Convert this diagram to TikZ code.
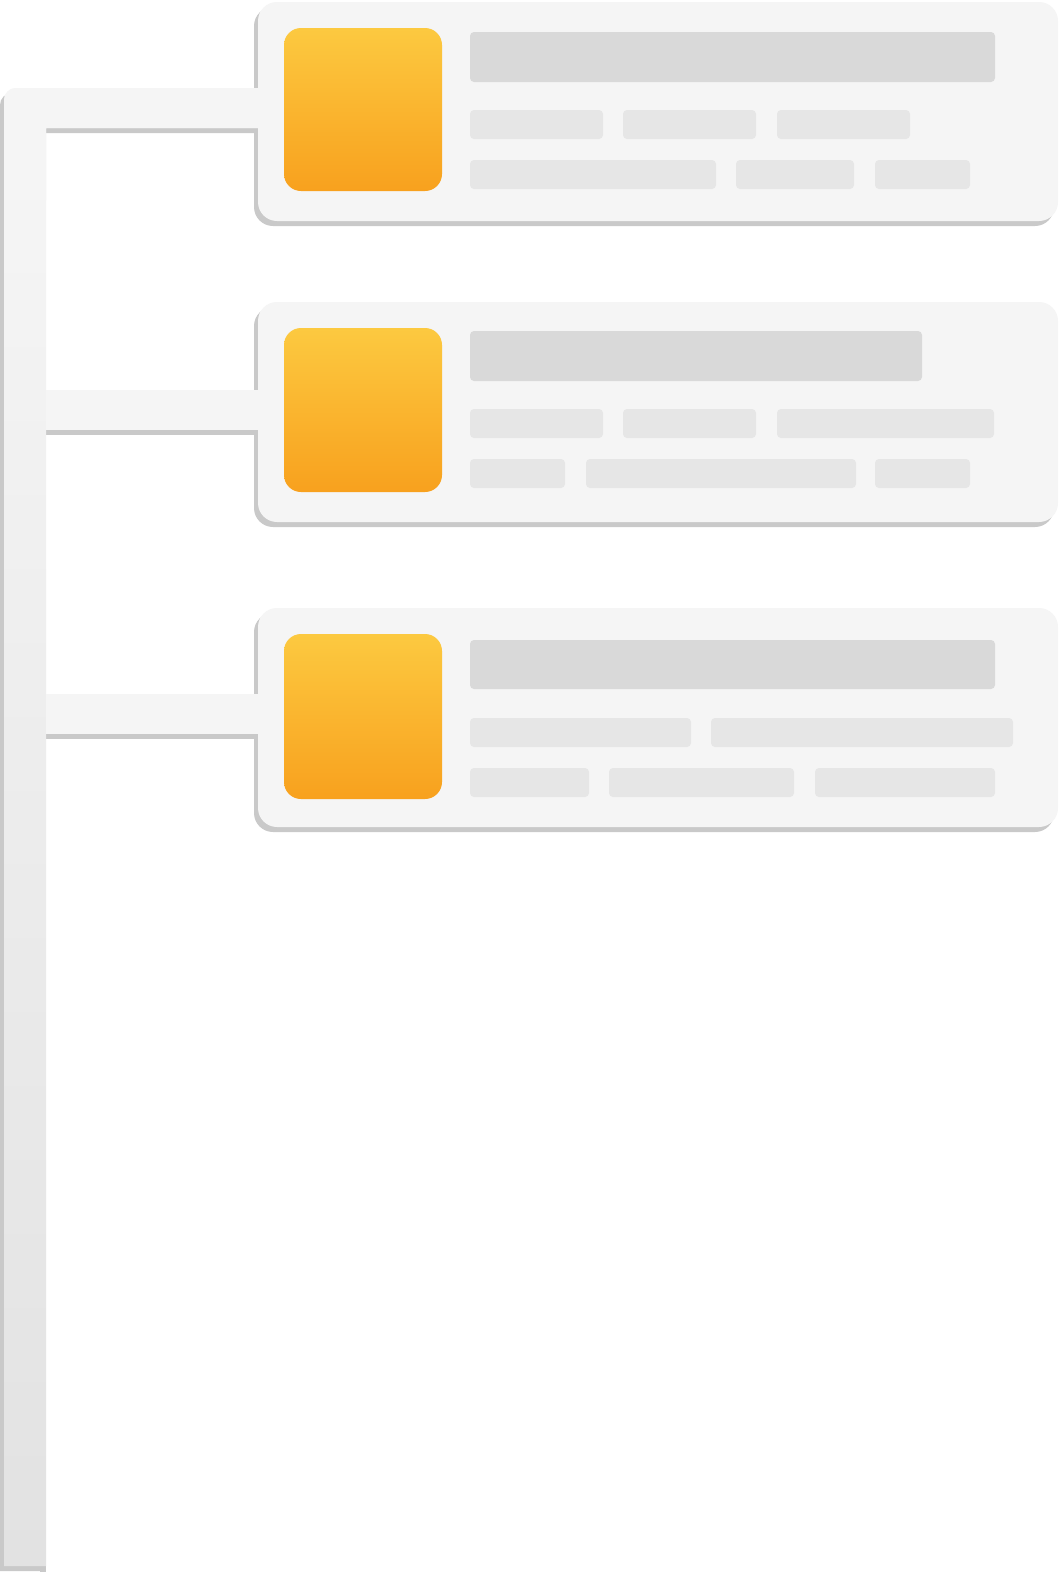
\documentclass[tikz,border=0pt]{standalone}
\definecolor{shadowgray}{HTML}{C9C9C9}
\definecolor{cardfill}{HTML}{F5F5F5}
\definecolor{titlebar}{HTML}{D9D9D9}
\definecolor{rowbar}{HTML}{E6E6E6}
\definecolor{orangetop}{HTML}{FCC940}
\definecolor{orangebot}{HTML}{F8A11E}
\definecolor{spinetop}{HTML}{F6F6F6}
\definecolor{spinebot}{HTML}{E2E2E2}
\tikzset{
  cardshape/.style={fill=cardfill, draw=none, rounded corners=19pt},
  cardshadow/.style={fill=shadowgray, draw=none, rounded corners=19pt},
  armshape/.style={fill=cardfill, draw=none},
  iconbox/.style={draw=none, rounded corners=17pt, top color=orangetop, bottom color=orangebot},
  titleph/.style={fill=titlebar, draw=none, rounded corners=4pt},
  rowph/.style={fill=rowbar, draw=none, rounded corners=4pt},
}
\begin{document}
\begin{tikzpicture}[x=1pt,y=-1pt]
\useasboundingbox (0,0) rectangle (1058,1572);
\fill[white] (0,0) rectangle (1058,1572);
% ---------- shadows (offset -4,+5) ----------
\begin{scope}[shift={(-4,5)}]
  \fill[shadowgray] (4,1566) -- (4,100) arc[start angle=180,end angle=270,radius=12] -- (262,88) -- (262,128) -- (46,128) -- (46,1566) -- cycle;
  \fill[shadowgray] (46,390) rectangle (262,430);
  \fill[shadowgray] (46,694) rectangle (262,734);
  \path[cardshadow] (258,2) rectangle (1058,221);
  \path[cardshadow] (258,302) rectangle (1058,522);
  \path[cardshadow] (258,608) rectangle (1058,827);
\end{scope}
\fill[shadowgray] (40,1566) rectangle (46,1572);
% ---------- spine with first arm ----------
\shade[top color=spinetop, bottom color=spinebot] (4,1566) -- (4,100) arc[start angle=180,end angle=270,radius=12] -- (262,88) -- (262,128) -- (46,128) -- (46,1566) -- cycle;
\fill[cardfill] (4,200) -- (4,100) arc[start angle=180,end angle=270,radius=12] -- (262,88) -- (262,128) -- (46,128) -- (46,200) -- cycle;
\path[armshape] (46,390) rectangle (262,430);
\path[armshape] (46,694) rectangle (262,734);
% ---------- cards ----------
\path[cardshape] (258,2) rectangle (1058,221);
\path[cardshape] (258,302) rectangle (1058,522);
\path[cardshape] (258,608) rectangle (1058,827);
% ---------- icons ----------
\path[iconbox] (284,28) rectangle (442,191);
\path[iconbox] (284,328) rectangle (442,492);
\path[iconbox] (284,634) rectangle (442,799);
% ---------- card 1 placeholders ----------
\path[titleph] (470,32) rectangle (995,82);
\path[rowph] (470,110) rectangle (603,139);
\path[rowph] (623,110) rectangle (756,139);
\path[rowph] (777,110) rectangle (910,139);
\path[rowph] (470,160) rectangle (716,189);
\path[rowph] (736,160) rectangle (854,189);
\path[rowph] (875,160) rectangle (970,189);
% ---------- card 2 placeholders ----------
\path[titleph] (470,331) rectangle (922,381);
\path[rowph] (470,409) rectangle (603,438);
\path[rowph] (623,409) rectangle (756,438);
\path[rowph] (777,409) rectangle (994,438);
\path[rowph] (470,459) rectangle (565,488);
\path[rowph] (586,459) rectangle (856,488);
\path[rowph] (875,459) rectangle (970,488);
% ---------- card 3 placeholders ----------
\path[titleph] (470,640) rectangle (995,689);
\path[rowph] (470,718) rectangle (691,747);
\path[rowph] (711,718) rectangle (1013,747);
\path[rowph] (470,768) rectangle (589,797);
\path[rowph] (609,768) rectangle (794,797);
\path[rowph] (815,768) rectangle (995,797);
\end{tikzpicture}
\end{document}
